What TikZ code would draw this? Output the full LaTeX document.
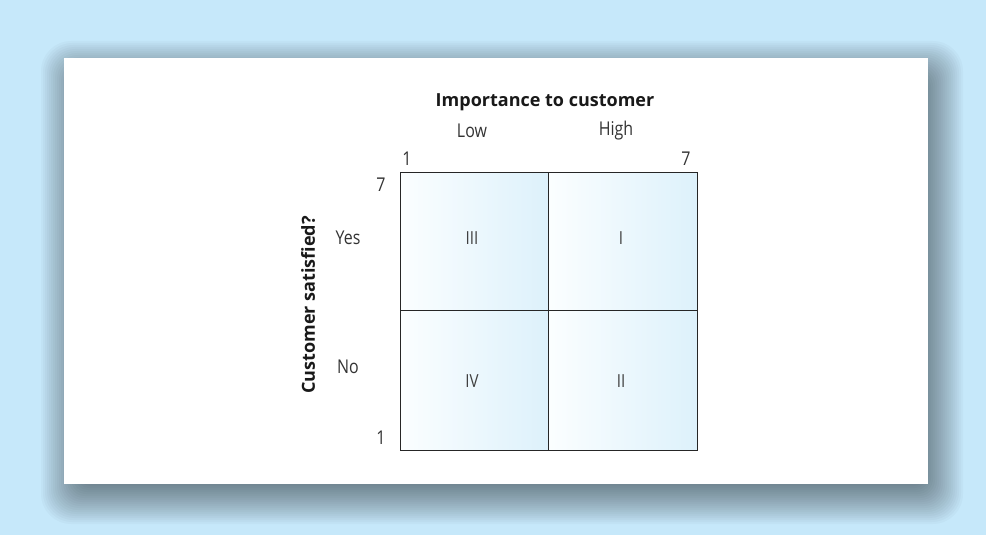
\documentclass[tikz,border=0pt]{standalone}
\usepackage{fontspec}
\setmainfont{Open Sans}
\begin{document}
\begin{tikzpicture}[x=1pt,y=-1pt,
  txt/.style={font=\fontsize{19}{22}\selectfont, text=black!80, inner sep=0pt, xscale=0.84},
  btxt/.style={font=\fontsize{18}{21}\selectfont\bfseries, text=black!90, inner sep=0pt},
  cell/.style={left color=cellL, right color=cellR, draw=black!85, line width=1.4pt},
  numtxt/.style={font=\fontsize{18}{21}\selectfont, text=black!75, inner sep=0pt, xscale=0.84}]
\definecolor{bg}{HTML}{C6E8FA}
\definecolor{cellL}{HTML}{FBFEFF}
\definecolor{cellR}{HTML}{DDF1FB}
\useasboundingbox (0,0) rectangle (986,535);
\fill[bg] (0,0) rectangle (986,535);
% shadow
\foreach \e in {29,27,...,-29}{
  \pgfmathsetmacro{\rr}{max((\e+31)/2,1)}
  \fill[black, opacity=0.023, rounded corners=\rr pt] (70-\e,70-\e) rectangle (934+\e,495+\e);
}
\fill[white] (64,58) rectangle (928,484);
% cells
\node[cell, minimum width=148pt, minimum height=138pt, anchor=north west, inner sep=0pt] (c3) at (400,172) {};
\node[cell, minimum width=149pt, minimum height=138pt, anchor=north west, inner sep=0pt] (c1) at (548,172) {};
\node[cell, minimum width=148pt, minimum height=140pt, anchor=north west, inner sep=0pt] (c4) at (400,310) {};
\node[cell, minimum width=149pt, minimum height=140pt, anchor=north west, inner sep=0pt] (c2) at (548,310) {};
\node[numtxt] (r3) at (472,238) {III};
\node[numtxt] (r1) at (621,238) {I};
\node[numtxt] (r4) at (472,381) {IV};
\node[numtxt] (r2) at (621,381) {II};
% labels
\node[btxt] (imp) at (545,102) {Importance to customer};
\node[txt] (low) at (472,131) {Low};
\node[txt] (high) at (616,131) {High};
\node[txt] (x1) at (407,159) {1};
\node[txt] (x7) at (686,159) {7};
\node[txt] (y7) at (381,185) {7};
\node[txt] (y1) at (381,438) {1};
\node[txt] (yes) at (348,238) {Yes};
\node[txt] (no) at (348,367) {No};
\node[btxt, rotate=90] (cs) at (308,305) {Customer satisfied?};
\end{tikzpicture}
\end{document}
